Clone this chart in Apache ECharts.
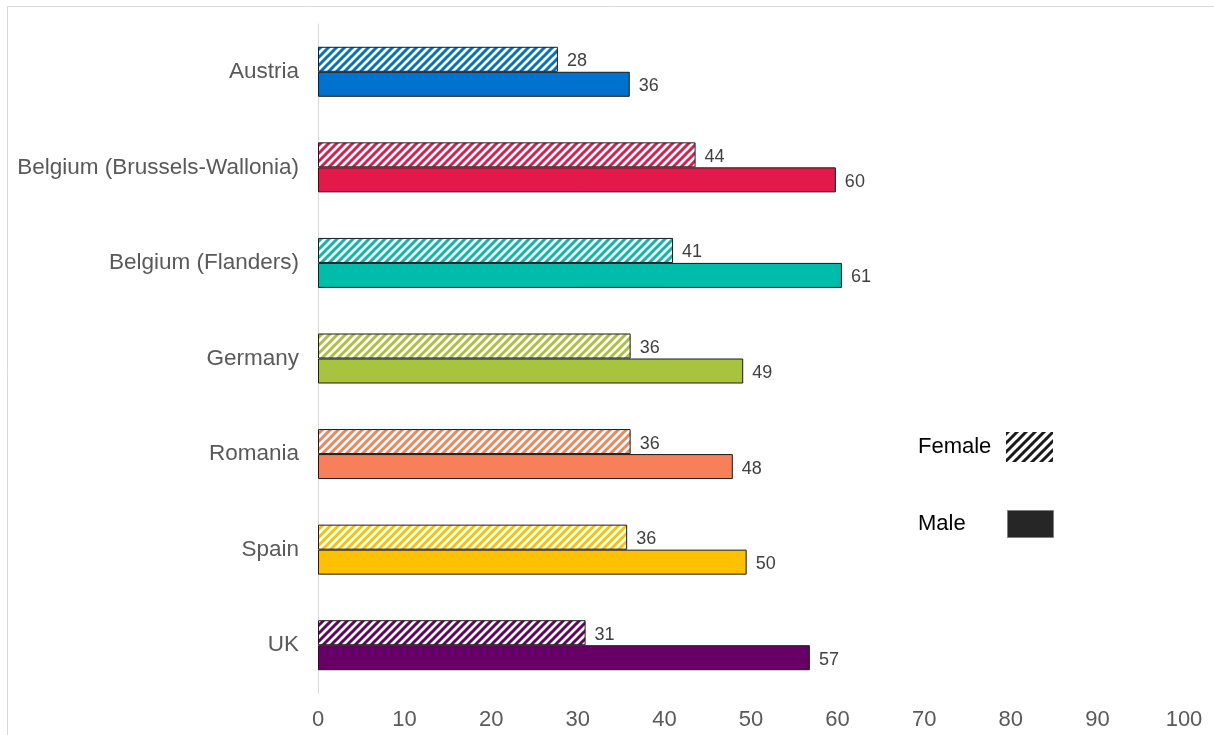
<!DOCTYPE html>
<html>
<head>
<meta charset="utf-8">
<script src="https://cdn.jsdelivr.net/npm/echarts@6/dist/echarts.min.js"></script>
<style>
html,body{margin:0;padding:0;background:#fff;}
#chart{width:1214px;height:735px;}
</style>
</head>
<body>
<div id="chart"></div>
<script>
const categories = ['Austria', 'Belgium (Brussels-Wallonia)', 'Belgium (Flanders)', 'Germany', 'Romania', 'Spain', 'UK'];
const female = [27.7, 43.6, 41.0, 36.1, 36.1, 35.7, 30.9];
const male = [36.0, 59.8, 60.5, 49.1, 47.9, 49.5, 56.8];
const countryColors = ['#0072CE', '#E2194B', '#00BCAA', '#A8C43F', '#F77F59', '#FFC000', '#660066'];
const xTicks = [0, 10, 20, 30, 40, 50, 60, 70, 80, 90, 100];

function hatch(color, size, lw) {
  const c = document.createElement('canvas');
  c.width = size; c.height = size;
  const ctx = c.getContext('2d');
  ctx.fillStyle = '#fff';
  ctx.fillRect(0, 0, size, size);
  ctx.strokeStyle = color;
  ctx.lineWidth = lw;
  ctx.beginPath();
  ctx.moveTo(-size, size); ctx.lineTo(size, -size);
  ctx.moveTo(0, size); ctx.lineTo(size, 0);
  ctx.moveTo(0, 2 * size); ctx.lineTo(2 * size, 0);
  ctx.stroke();
  return { image: c, repeat: 'repeat' };
}

const FONT = 'Liberation Sans, Arial, sans-serif';
const chart = echarts.init(document.getElementById('chart'), null, { renderer: 'canvas' });

const labelStyle = {
  show: true, position: 'right', distance: 9, offset: [0, 2],
  fontSize: 18, color: '#404040', fontFamily: FONT,
  formatter: p => Math.round(p.value)
};

chart.setOption({
  animation: false,
  backgroundColor: '#fff',
  textStyle: { fontFamily: FONT },
  grid: { left: 318, right: 30, top: 24, bottom: 42, containLabel: false },
  xAxis: {
    type: 'value', min: xTicks[0], max: xTicks[xTicks.length - 1], interval: 10,
    axisLine: { show: false }, axisTick: { show: false }, splitLine: { show: false },
    axisLabel: { fontSize: 22, color: '#595959', margin: 16 }
  },
  yAxis: {
    type: 'category', data: categories, inverse: true,
    axisLine: { show: true, lineStyle: { color: '#d9d9d9', width: 1 } },
    axisTick: { show: false },
    axisLabel: { fontSize: 22.5, color: '#595959', margin: 19, padding: [4, 0, 0, 0] }
  },
  series: [
    {
      name: 'Female', type: 'bar', barWidth: 25, barGap: '0%',
      data: female.map((v, i) => ({ value: v, itemStyle: { color: hatch(countryColors[i], 8, 3) } })),
      itemStyle: { borderColor: '#1a1a1a', borderWidth: 1 },
      label: labelStyle
    },
    {
      name: 'Male', type: 'bar', barWidth: 25, barGap: '0%',
      data: male.map((v, i) => ({ value: v, itemStyle: { color: countryColors[i] } })),
      itemStyle: { borderColor: '#1a1a1a', borderWidth: 1 },
      label: labelStyle
    }
  ],
  graphic: [
    { type: 'rect', silent: true, z: -1, shape: { x: 7.5, y: 6.5, width: 1230, height: 760 },
      style: { fill: 'none', stroke: '#d9d9d9', lineWidth: 1 } },
    { type: 'text', left: 918, top: 436, style: { text: 'Female', fontSize: 22, fill: '#000', fontFamily: FONT } },
    { type: 'rect', shape: { x: 1006, y: 432, width: 47, height: 30 },
      style: { fill: hatch('#1a1a1a', 9, 3), stroke: 'none' } },
    { type: 'text', left: 918, top: 513, style: { text: 'Male', fontSize: 22, fill: '#000', fontFamily: FONT } },
    { type: 'rect', shape: { x: 1007.5, y: 510.5, width: 46, height: 27 },
      style: { fill: '#262626', stroke: '#7f7f7f', lineWidth: 1 } }
  ]
});
</script>
</body>
</html>
